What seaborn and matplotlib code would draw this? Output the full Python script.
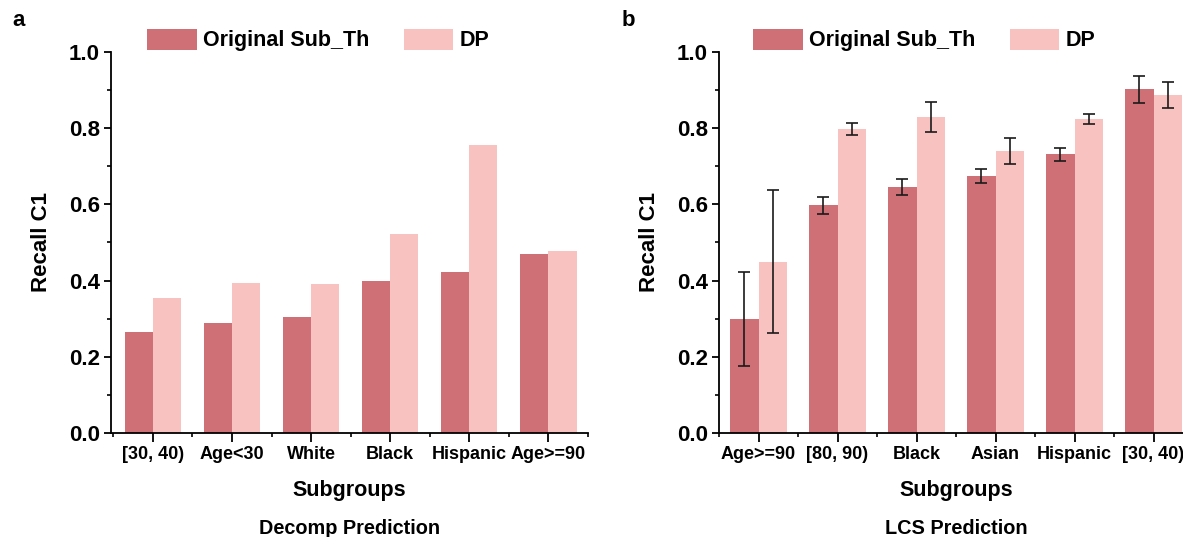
import numpy as np
import pandas as pd
import matplotlib
matplotlib.use("Agg")
import matplotlib.pyplot as plt
import seaborn as sns
from matplotlib.ticker import MultipleLocator, FixedLocator
from matplotlib.patches import Patch

# ---------------- data ----------------
series_names = ["Original Sub_Th", "DP"]

decomp_groups = ["[30, 40)", "Age<30", "White", "Black", "Hispanic", "Age>=90"]
decomp_orig = [0.265, 0.289, 0.305, 0.400, 0.423, 0.469]
decomp_dp = [0.355, 0.395, 0.391, 0.523, 0.755, 0.479]

lcs_groups = ["Age>=90", "[80, 90)", "Black", "Asian", "Hispanic", "[30, 40)"]
lcs_orig = [0.300, 0.598, 0.646, 0.674, 0.732, 0.902]
lcs_dp = [0.450, 0.798, 0.830, 0.740, 0.824, 0.888]
lcs_orig_err = [0.123, 0.022, 0.021, 0.018, 0.017, 0.036]
lcs_dp_err = [0.187, 0.016, 0.040, 0.035, 0.012, 0.034]

colors = ["#CE7075", "#F7C2C0"]

# ---------------- style ----------------
sns.set_theme(style="white")
plt.rcParams["font.family"] = ["Liberation Sans", "DejaVu Sans"]
plt.rcParams["font.weight"] = "bold"
plt.rcParams["axes.labelweight"] = "bold"
plt.rcParams["text.color"] = "black"
plt.rcParams["axes.labelcolor"] = "black"
plt.rcParams["xtick.color"] = "black"
plt.rcParams["ytick.color"] = "black"

W, H = 1183, 537
fig = plt.figure(figsize=(W / 100, H / 100), dpi=100)

def px_axes(x0, x1, y_top, y_bot):
    return fig.add_axes([x0 / W, 1 - y_bot / H, (x1 - x0) / W, (y_bot - y_top) / H])

ax1 = px_axes(111, 588, 52, 433)
ax2 = px_axes(719, 1193, 52, 433)


def make_df(groups, a, b):
    return pd.DataFrame({
        "Subgroups": list(groups) * 2,
        "value": list(a) + list(b),
        "series": [series_names[0]] * len(groups) + [series_names[1]] * len(groups),
    })


def style_axes(ax, xlim):
    ax.set_ylim(0, 1.0)
    ax.set_xlim(*xlim)
    for s in ["top", "right"]:
        ax.spines[s].set_visible(False)
    for s in ["left", "bottom"]:
        ax.spines[s].set_color("black")
        ax.spines[s].set_linewidth(1.3)
    ax.yaxis.set_major_locator(MultipleLocator(0.2))
    ax.yaxis.set_minor_locator(MultipleLocator(0.1))
    ax.set_yticks(np.arange(0, 1.01, 0.2))
    ax.set_yticklabels([f"{v:.1f}" for v in np.arange(0, 1.01, 0.2)])
    ax.xaxis.set_minor_locator(FixedLocator(np.arange(-0.5, 6.0, 1.0)))
    ax.tick_params(axis="y", which="major", direction="out", length=5, width=1.3,
                   labelsize=16, pad=3, left=True, colors="black")
    ax.tick_params(axis="y", which="minor", direction="out", length=3, width=1.2, left=True,
                   colors="black")
    ax.tick_params(axis="x", which="major", direction="out", length=6.5, width=1.3,
                   labelsize=13, pad=3, bottom=True, colors="black")
    ax.tick_params(axis="x", which="minor", direction="out", length=3, width=1.2, bottom=True,
                   colors="black")
    for lab in ax.get_xticklabels() + ax.get_yticklabels():
        lab.set_fontweight("bold")
    ax.set_ylabel("Recall C1", fontsize=16, fontweight="bold", labelpad=12, color="black")
    ax.set_xlabel("Subgroups", fontsize=15.5, fontweight="bold", labelpad=12, color="black")


# ----- panel a -----
df1 = make_df(decomp_groups, decomp_orig, decomp_dp)
sns.barplot(data=df1, x="Subgroups", y="value", hue="series", palette=colors,
            width=0.71, gap=0, errorbar=None, ax=ax1, legend=False,
            edgecolor="none", linewidth=0, saturation=1)
style_axes(ax1, (-0.53, 5.5))

# ----- panel b -----
df2 = make_df(lcs_groups, lcs_orig, lcs_dp)
sns.barplot(data=df2, x="Subgroups", y="value", hue="series", palette=colors,
            width=0.71, gap=0, errorbar=None, ax=ax2, legend=False,
            edgecolor="none", linewidth=0, saturation=1)
for cont, vals, errs in zip(ax2.containers, [lcs_orig, lcs_dp], [lcs_orig_err, lcs_dp_err]):
    xs = [p.get_x() + p.get_width() / 2 for p in cont.patches]
    ax2.errorbar(xs, vals, yerr=errs, fmt="none", ecolor="#1a1a1a",
                 elinewidth=1.2, capsize=4.3, capthick=1.2, zorder=5)
style_axes(ax2, (-0.5, 5.5))

# ----- legends -----
handles = [Patch(facecolor=c, edgecolor="none") for c in colors]
for x_px in (147, 753):
    fig.legend(handles, series_names, loc="center left",
               bbox_to_anchor=(x_px / W, 1 - 40 / H), ncol=2, frameon=False,
               prop={"size": 15.5, "weight": "bold"}, handlelength=2.3,
               handleheight=1.15, handletextpad=0.3, columnspacing=1.6,
               borderpad=0, borderaxespad=0)

# ----- panel letters and captions -----
fig.text(12 / W, 1 - 20 / H, "a", fontsize=16, fontweight="bold", va="center", ha="left")
fig.text(622 / W, 1 - 20 / H, "b", fontsize=16, fontweight="bold", va="center", ha="left")
fig.text(350 / W, 1 - 528 / H, "Decomp Prediction", fontsize=14.3, fontweight="bold",
         va="center", ha="center")
fig.text(956 / W, 1 - 528 / H, "LCS Prediction", fontsize=14.3, fontweight="bold",
         va="center", ha="center")

fig.savefig("out.png", dpi=100)
